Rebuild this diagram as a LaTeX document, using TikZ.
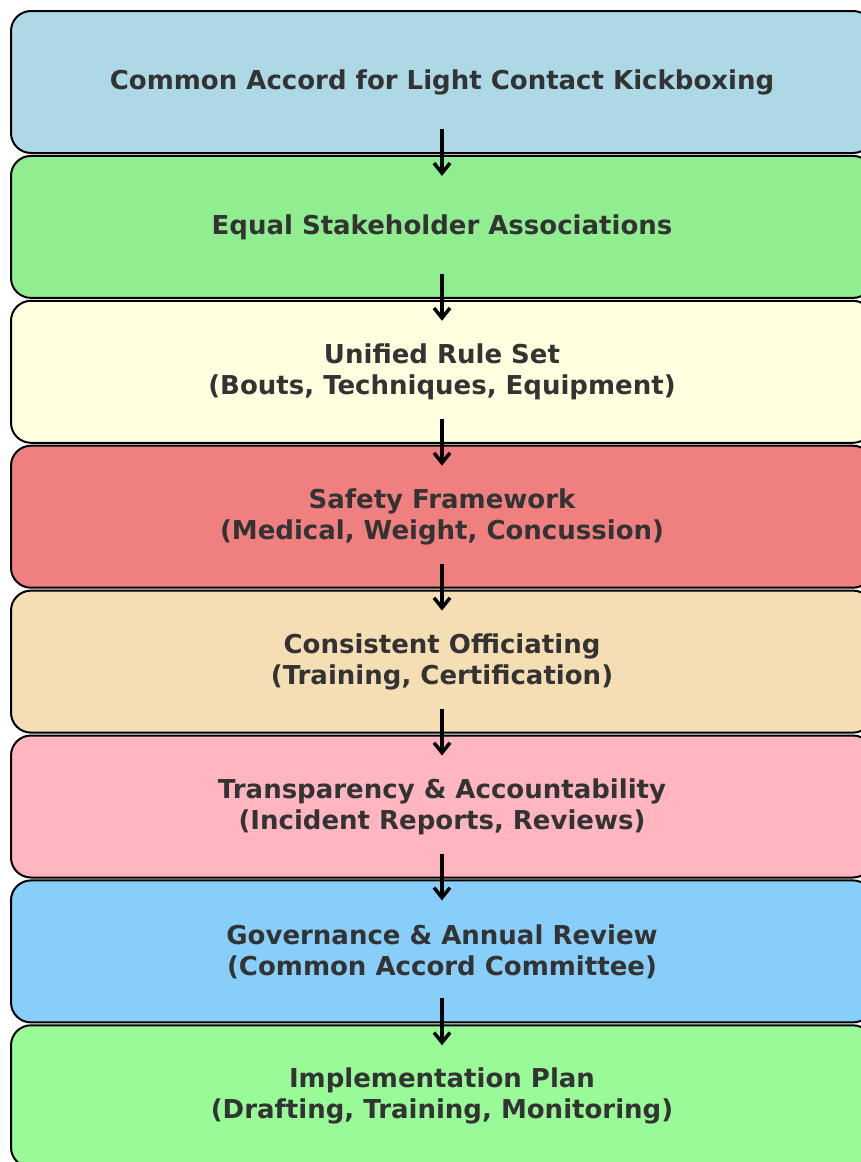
\documentclass[tikz,border=0pt]{standalone}
\usepackage{fontspec}
\setmainfont{DejaVu Sans}
\usetikzlibrary{arrows.meta}
\definecolor{txt}{HTML}{333333}
\definecolor{c1}{HTML}{ADD8E6}
\definecolor{c2}{HTML}{90EE90}
\definecolor{c3}{HTML}{FFFFE0}
\definecolor{c4}{HTML}{F08080}
\definecolor{c5}{HTML}{F5DEB3}
\definecolor{c6}{HTML}{FFB6C1}
\definecolor{c7}{HTML}{87CEFA}
\definecolor{c8}{HTML}{98FB98}
\tikzset{
  stagebox/.style={draw=black, line width=2pt, rounded corners=20pt,
    minimum width=862pt, minimum height=142pt, inner sep=0pt,
    text=txt, font=\fontsize{26}{31}\selectfont\bfseries, align=center},
  flowarrow/.style={-{Straight Barb[length=10pt,width=16pt,line width=3.5pt]}, line width=3.5pt, black}
}
\begin{document}
\begin{tikzpicture}[x=1pt,y=-1pt]
\useasboundingbox (0,0) rectangle (861,1162);
\clip (0,0) rectangle (861,1162);
\node[stagebox, fill=c1] (n1) at (442,82) {Common Accord for Light Contact Kickboxing};
\node[stagebox, fill=c2] (n2) at (442,226.9) {Equal Stakeholder Associations};
\node[stagebox, fill=c3] (n3) at (442,371.8) {Unified Rule Set\\(Bouts, Techniques, Equipment)};
\node[stagebox, fill=c4] (n4) at (442,516.7) {Safety Framework\\(Medical, Weight, Concussion)};
\node[stagebox, fill=c5] (n5) at (442,661.6) {Consistent Officiating\\(Training, Certification)};
\node[stagebox, fill=c6] (n6) at (442,806.5) {Transparency \& Accountability\\(Incident Reports, Reviews)};
\node[stagebox, fill=c7] (n7) at (442,951.4) {Governance \& Annual Review\\(Common Accord Committee)};
\node[stagebox, fill=c8] (n8) at (442,1096.3) {Implementation Plan\\(Drafting, Training, Monitoring)};
\foreach \a/\b in {n1/n2,n2/n3,n3/n4,n4/n5,n5/n6,n6/n7,n7/n8}
  \draw[flowarrow] ([yshift=25pt]\a.south) -- ([yshift=-21pt]\b.north);
\end{tikzpicture}
\end{document}
